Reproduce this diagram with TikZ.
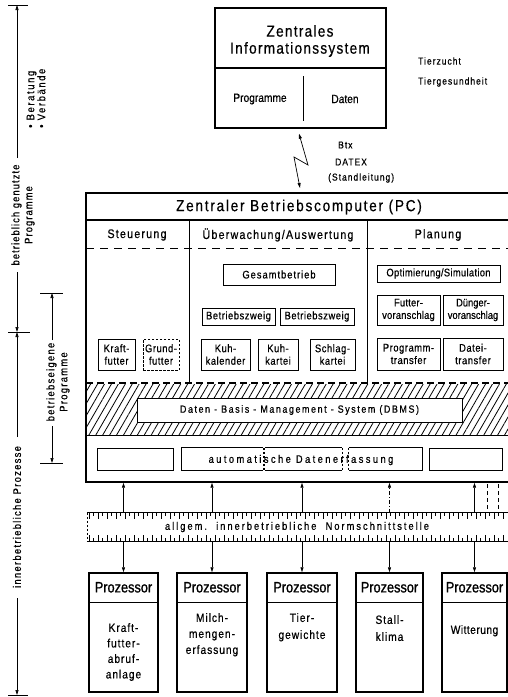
\documentclass[tikz,border=0pt]{standalone}
\usepackage{fontspec}
\setmainfont{Liberation Sans}[FakeStretch=0.85,FakeBold=0.5]
\usetikzlibrary{arrows.meta,patterns.meta}
\newcommand{\myf}[2]{\fontsize{#1}{#2}\selectfont}
\newcommand{\lsp}[1]{\addfontfeature{LetterSpace=#1}}
\begin{document}
\begin{tikzpicture}[x=1pt,y=-1pt,
  box/.style={draw, line width=0.8pt, inner sep=0pt, align=center, font=\myf{11}{12.5}\lsp{5}},
  dbox/.style={box, dash pattern=on 2.5pt off 1.5pt},
  hbox/.style={draw, line width=1.4pt, inner sep=0pt},
  arr/.style={-{Triangle[length=5pt,width=3pt]}, line width=0.6pt},
  barr/.style={{Triangle[length=5pt,width=3pt]}-{Triangle[length=5pt,width=3pt]}, line width=0.7pt},
  lbl/.style={inner sep=0pt, align=center},
  tick/.style={line width=0.9pt}]
\useasboundingbox (0,0) rectangle (508,697);
\fill[white] (0,0) rectangle (508,697);

% ---------- central information system ----------
\node[hbox, minimum width=171pt, minimum height=120pt] (zis) at (300.5,68) {};
\draw[line width=1.2pt] (215,68) -- (386,68);
\draw[line width=1pt] (303,76) -- (303,121);
\node[lbl, font=\myf{16}{17}\lsp{8}] (zist) at (300,41) {Zentrales\\Informationssystem};
\node[lbl, font=\myf{12}{14}] (prog) at (260,99) {Programme};
\node[lbl, font=\myf{12}{14}] (dat) at (345,99) {Daten};
\node[lbl, font=\myf{10}{12}\lsp{10}, anchor=west] (tz) at (418,61) {Tierzucht};
\node[lbl, font=\myf{10}{12}\lsp{10}, anchor=west] (tg) at (418,82) {Tiergesundheit};

% lightning link
\coordinate (lt) at ([xshift=-1.5pt,yshift=-5pt]zis.south);
\coordinate (lb) at (300,188);
\draw[barr] (lt) -- (308,165) -- (294,157) -- (lb);
\node[lbl, font=\myf{10}{12}\lsp{10}, anchor=west] (btx) at (338,145) {Btx};
\node[lbl, font=\myf{10}{12}\lsp{10}, anchor=west] (datex) at (335,162) {DATEX};
\node[lbl, font=\myf{10}{12}\lsp{10}, anchor=west] (stl) at (328,178) {(Standleitung)};

% ---------- central farm computer ----------
\node[hbox, minimum width=424pt, minimum height=289pt] (pc) at (298,337.5) {};
\draw[line width=1.2pt] (86,220) -- (508,220);
\node[lbl, font=\myf{16}{18}\lsp{11}] (pct) at (299,207) {Zentraler Betriebscomputer (PC)};
\draw[line width=0.8pt] (189,220) -- (189,383);
\draw[line width=0.8pt] (367,220) -- (367,383);
\node[lbl, font=\myf{12.5}{14}\lsp{10}] (st) at (137,235) {Steuerung};
\node[lbl, font=\myf{12.5}{14}\lsp{10}] (ue) at (278,235) {Überwachung/Auswertung};
\node[lbl, font=\myf{12.5}{14}\lsp{10}] (pl) at (438,235) {Planung};
\draw[line width=1pt, dash pattern=on 8pt off 6pt] (86,248) -- (508,248);

% Steuerung
\node[box, minimum width=37pt, minimum height=31pt] (kraft) at (116.5,354.5) {Kraft-\\futter};
\node[dbox, minimum width=36pt, minimum height=31pt] (grund) at (161,354.5) {Grund-\\futter};
% Ueberwachung
\node[box, minimum width=112pt, minimum height=21pt, font=\myf{11}{12.5}\lsp{9}] (gesamt) at (279,274.5) {Gesamtbetrieb};
\node[box, minimum width=73pt, minimum height=17pt] (bz1) at (238.5,316.5) {Betriebszweig};
\node[box, minimum width=74pt, minimum height=17pt] (bz2) at (317,316.5) {Betriebszweig};
\node[box, minimum width=49pt, minimum height=31pt] (kuhkal) at (225.5,354.5) {Kuh-\\kalender};
\node[box, minimum width=40pt, minimum height=31pt] (kuhkart) at (278,354.5) {Kuh-\\kartei};
\node[box, minimum width=45pt, minimum height=31pt] (schlag) at (332.5,354.5) {Schlag-\\kartei};
% Planung
\node[box, minimum width=123pt, minimum height=17pt, font=\myf{11}{12.5}\lsp{3}] (opt) at (438.5,273.5) {Optimierung/Simulation};
\node[box, minimum width=63pt, minimum height=30pt, font=\myf{11}{12.5}\lsp{2}] (fv) at (408.5,310) {Futter-\\voranschlag};
\node[box, minimum width=60pt, minimum height=30pt, font=\myf{11}{12.5}\lsp{0}] (dv) at (473,310) {Dünger-\\voranschlag};
\node[box, minimum width=63pt, minimum height=32pt] (pt) at (408.5,354) {Programm-\\transfer};
\node[box, minimum width=60pt, minimum height=32pt] (dt) at (473,354) {Datei-\\transfer};

% DBMS hatched band
\fill[pattern={Lines[angle=60,distance=6pt,line width=0.8pt]}] (87,384) rectangle (508,435);
\draw[line width=1.2pt, dash pattern=on 7pt off 4pt] (86,383) -- (508,383);
\draw[line width=1pt] (86,435) -- (508,435);
\node[box, fill=white, minimum width=325pt, minimum height=24pt, font=\myf{10.5}{12}\lsp{15}] (dbms) at (299.5,410) {Daten - Basis - Management - System (DBMS)};

% automatic data acquisition
\node[box, minimum width=76pt, minimum height=22pt] (a1) at (135,459) {};
\node[inner sep=0pt, minimum width=81pt, minimum height=22pt] (a2) at (222.5,459) {};
\node[inner sep=0pt, minimum width=77pt, minimum height=22pt] (a3) at (303.5,459) {};
\node[inner sep=0pt, minimum width=73pt, minimum height=22pt] (a4) at (385.5,459) {};
\node[box, minimum width=73pt, minimum height=22pt] (a5) at (465.5,459) {};
\draw[line width=0.8pt] (a2.north east) -- (a2.north west) -- (a2.south west) -- (a2.south east);
\draw[line width=0.8pt, dash pattern=on 2pt off 2pt] (a2.north east) -- (a2.south east);
\draw[line width=0.8pt] (a3.north west) -- (a3.north east) (a3.south west) -- (a3.south east);
\draw[line width=0.8pt, dash pattern=on 2pt off 2pt] (a3.north west) -- (a3.south west) (a3.north east) -- (a3.south east);
\draw[line width=0.8pt] (a4.north west) -- (a4.north east) -- (a4.south east) -- (a4.south west);
\draw[line width=0.8pt, dash pattern=on 2pt off 2pt] (a4.north west) -- (a4.south west);
\node[lbl, font=\myf{11}{13}\lsp{22}] (ade) at (301,460) {automatische Datenerfassung};

% ---------- bus ----------
\node[inner sep=0pt, minimum width=423pt, minimum height=28pt] (bus) at (298.5,527) {};
\draw[line width=0.8pt] (bus.north west) -- (bus.north east);
\draw[line width=0.8pt] (bus.south west) -- (bus.south east);
\draw[line width=0.6pt, dash pattern=on 2pt off 2pt] (bus.north west) -- (bus.south west);
\foreach \x in {89,98,...,507} {\draw[line width=0.5pt] (\x,513) -- (\x,519); \draw[line width=0.5pt] (\x,541) -- (\x,535);}
\foreach \x in {93.5,102.5,...,507} {\draw[line width=0.5pt] (\x,513) -- (\x,516); \draw[line width=0.5pt] (\x,541) -- (\x,538);}
\node[lbl, fill=white, inner sep=1pt, font=\myf{11}{13}\lsp{18}] (bust) at (297,527) {allgem.\ \ innerbetriebliche\ \ Normschnittstelle};

% ---------- processors ----------
\node[hbox, minimum width=69pt, minimum height=119pt] (p1) at (123.5,632.5) {};
\node[hbox, minimum width=70pt, minimum height=119pt] (p2) at (212,632.5) {};
\node[hbox, minimum width=70pt, minimum height=119pt] (p3) at (302,632.5) {};
\node[hbox, minimum width=67pt, minimum height=119pt] (p4) at (389.5,632.5) {};
\node[hbox, minimum width=65pt, minimum height=119pt] (p5) at (474.5,632.5) {};
\foreach \p in {p1,p2,p3,p4,p5} {
  \draw[line width=1.2pt] ([yshift=-30pt]\p.north west) -- ([yshift=-30pt]\p.north east);
  \node[lbl, font=\myf{15}{17}\addfontfeature{FakeBold=1.2}] (\p h) at ([yshift=-15pt]\p.north) {Prozessor};
}
\node[lbl, font=\myf{12}{15.5}\lsp{8}, anchor=north] (p1b) at (123.5,623) {Kraft-\\futter-\\abruf-\\anlage};
\node[lbl, font=\myf{12}{16}\lsp{8}, anchor=north] (p2b) at (212,613) {Milch-\\mengen-\\erfassung};
\node[lbl, font=\myf{12}{17}\lsp{8}, anchor=north] (p3b) at (302,613) {Tier-\\gewichte};
\node[lbl, font=\myf{12}{17}\lsp{8}, anchor=north] (p4b) at (389.5,615) {Stall-\\klima};
\node[lbl, font=\myf{12}{15}\lsp{4}, anchor=north] (p5b) at (474.5,625) {Witterung};

% connectors bus <-> computer / processors
\foreach \p in {p1,p2,p3,p5} {
  \draw[arr] (\p.north |- bus.north) -- (\p.north |- pc.south);
}
\draw[arr, dash pattern=on 4pt off 2pt on 1pt off 2pt] (p4.north |- bus.north) -- (p4.north |- pc.south);
\foreach \p in {p1,p2,p3,p4,p5} {
  \draw[arr] (\p.north |- bus.south) -- (\p.north);
}
\draw[line width=0.8pt, dash pattern=on 4pt off 3pt] (487,484) -- (487,513);
\draw[line width=0.8pt, dash pattern=on 4pt off 3pt] (498,484) -- (498,513);

% ---------- left dimension lines ----------
\draw[tick] (8,5) -- (28,5);
\draw[arr] (17,158) -- (17,5);
\node[lbl, rotate=90, font=\myf{11}{13}\lsp{10}] (bgp) at (23,215) {betrieblich genutzte\\Programme};
\draw[arr] (17,272) -- (17,332);
\draw[tick] (8,332) -- (30,332);
\draw[arr] (17,437) -- (17,332);
\node[lbl, rotate=90, font=\myf{11}{13}\lsp{12}] (ibp) at (17,517) {innerbetriebliche Prozesse};
\draw[arr] (17,598) -- (17,695);
\draw[tick] (8,695) -- (28,695);
\node[lbl, rotate=90, anchor=west, align=left, font=\myf{11}{11}\lsp{15}] (ber) at (36,128) {• Beratung\\• Verbände};

\draw[tick] (40,293) -- (63,293);
\draw[arr] (52,340) -- (52,293);
\node[lbl, rotate=90, font=\myf{11}{13}\lsp{12}] (bep) at (58,382) {betriebseigene\\Programme};
\draw[arr] (52,426) -- (52,463);
\draw[tick] (40,463) -- (63,463);
\end{tikzpicture}
\end{document}
